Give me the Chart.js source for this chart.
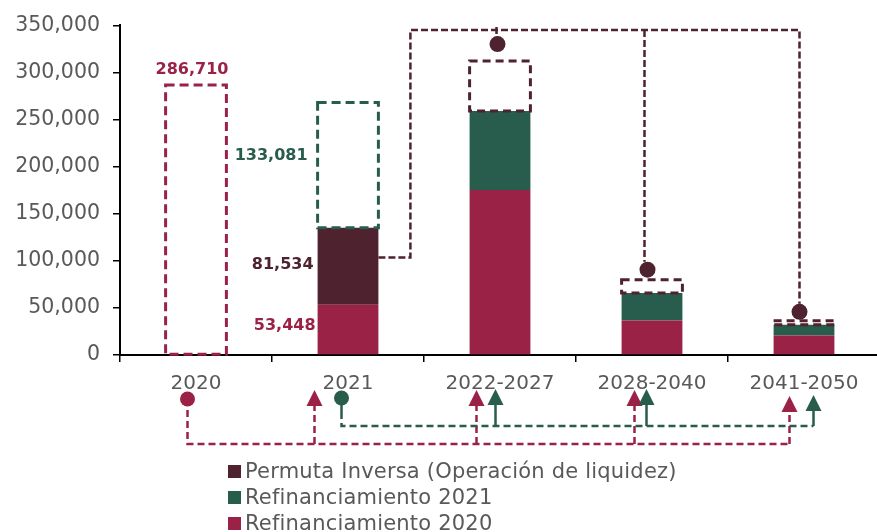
<!DOCTYPE html>
<html><head><meta charset="utf-8">
<script src="https://cdn.jsdelivr.net/npm/chart.js@4.4.0/dist/chart.umd.min.js"></script>
<style>
html,body{margin:0;padding:0;background:#fff;overflow:hidden;width:877px;height:532px;}
#wrap{position:relative;width:877px;height:532px;overflow:hidden;}
canvas{position:absolute;left:0;top:0;}
#legend{position:absolute;left:228px;top:458px;font-family:'DejaVu Sans';font-size:21px;letter-spacing:0.2px;color:#595959;white-space:nowrap;}
.item{display:flex;align-items:center;height:26px;}
.sw{width:13px;height:13px;margin-right:4px;flex:none;}
</style></head>
<body><div id="wrap"><canvas id="c" width="880" height="532"></canvas><div id="legend"></div></div>
<script>
const categories = ['2020', '2021', '2022-2027', '2028-2040', '2041-2050'];
// solid (executed) amounts
const refin2020 = [0, 53448, 175200, 36700, 20800];
const refin2021 = [0, 0, 83900, 29200, 11200];
const permuta = [0, 81534, 0, 0, 0];
// dashed (pending / original) amounts
const refin2020Pend = [286710, 0, 0, 0, 0];
const refin2021Pend = [0, 133081, 0, 0, 0];
const permutaPend = [0, 0, 52900, 14100, 4300];
const yTickValues = [0, 50000, 100000, 150000, 200000, 250000, 300000, 350000];

const RED = '#9B2247', GREEN = '#285C4D', MAROON = '#4E222E', GRAY = '#595959';
const FONT = 'DejaVu Sans';

const datasets = [
  {label: 'Refinanciamiento 2020', data: refin2020, backgroundColor: RED},
  {label: 'Refinanciamiento 2021', data: refin2021, backgroundColor: GREEN},
  {label: 'Permuta Inversa (Operación de liquidez)', data: permuta, backgroundColor: MAROON},
  {label: 'Refinanciamiento 2020 (original)', data: refin2020Pend, backgroundColor: 'rgba(0,0,0,0)', pend: true, lineColor: RED, dash: [9, 5]},
  {label: 'Refinanciamiento 2021 (original)', data: refin2021Pend, backgroundColor: 'rgba(0,0,0,0)', pend: true, lineColor: GREEN, dash: [9, 5]},
  {label: 'Permuta Inversa (pendiente)', data: permutaPend, backgroundColor: 'rgba(0,0,0,0)', pend: true, lineColor: MAROON, dash: [8, 5]}
];

const fmt = v => v.toLocaleString('en-US');

const annot = {
  id: 'annot',
  afterDatasetsDraw(chart) {
    const ctx = chart.ctx;
    const xs = chart.scales.x, ys = chart.scales.y;
    const area = chart.chartArea;
    const dsIdx = arr => chart.data.datasets.findIndex(d => d.data === arr);
    const els = arr => chart.getDatasetMeta(dsIdx(arr)).data;
    const cx = i => xs.getPixelForValue(i);
    ctx.save();
    // dashed boxes
    chart.data.datasets.forEach((ds, di) => {
      if (!ds.pend) return;
      chart.getDatasetMeta(di).data.forEach((el, i) => {
        if (!ds.data[i]) return;
        ctx.setLineDash(ds.dash);
        ctx.lineWidth = 3;
        ctx.strokeStyle = ds.lineColor;
        ctx.strokeRect(el.x - el.width / 2, el.y, el.width, el.base - el.y);
      });
    });
    ctx.setLineDash([]);
    // value labels
    ctx.font = 'bold 16px ' + FONT;
    ctx.textBaseline = 'middle';
    const e0 = els(refin2020Pend)[0];
    ctx.fillStyle = RED; ctx.textAlign = 'center';
    ctx.fillText(fmt(refin2020Pend[0]), e0.x - 4, e0.y - 15);
    ctx.textAlign = 'right';
    const g1 = els(refin2021Pend)[1];
    ctx.fillStyle = GREEN;
    ctx.fillText(fmt(refin2021Pend[1]), g1.x - g1.width / 2 - 10, (g1.y + g1.base) / 2 - 9);
    const p1 = els(permuta)[1];
    ctx.fillStyle = MAROON;
    ctx.fillText(fmt(permuta[1]), p1.x - p1.width / 2 - 4, (p1.y + p1.base) / 2 - 1);
    const r1 = els(refin2020)[1];
    ctx.fillStyle = RED;
    ctx.fillText(fmt(refin2020[1]), r1.x - r1.width / 2 - 2, (r1.y + r1.base) / 2 - 4);

    // top connector (permuta)
    const pp = els(permutaPend);
    const xr = p1.x + p1.width / 2;
    const yc = ys.getPixelForValue(103600);
    const yTop = ys.getPixelForValue(345000);
    const xv = xr + 32;
    const lineDx = [0, 0, -3.5, -7.5, -4.5];
    const dotDx = [0, 0, -2.5, -4.5, -4.5];
    const dotDy = [0, 0, 17, 10, 9];
    const R = 8;
    ctx.strokeStyle = MAROON; ctx.lineWidth = 2.5; ctx.setLineDash([7, 3]);
    const idx = permutaPend.map((v, i) => v > 0 ? i : -1).filter(i => i >= 0);
    const last = idx[idx.length - 1];
    ctx.beginPath();
    ctx.moveTo(xr, yc); ctx.lineTo(xv, yc); ctx.lineTo(xv, yTop);
    ctx.lineTo(cx(last) + lineDx[last], yTop);
    ctx.lineTo(cx(last) + lineDx[last], pp[last].y - dotDy[last] - R);
    ctx.stroke();
    idx.forEach((i, k) => {
      if (i === last) return;
      ctx.beginPath();
      if (k === 0) {
        ctx.setLineDash([]);
        ctx.moveTo(cx(i) + lineDx[i], yTop - 3); ctx.lineTo(cx(i) + lineDx[i], yTop + 4);
      } else {
        ctx.setLineDash([7, 3]);
        ctx.moveTo(cx(i) + lineDx[i], yTop); ctx.lineTo(cx(i) + lineDx[i], pp[i].y - dotDy[i] - R);
      }
      ctx.stroke();
    });
    ctx.setLineDash([]);
    ctx.fillStyle = MAROON;
    idx.forEach(i => {
      ctx.beginPath(); ctx.arc(cx(i) + dotDx[i], pp[i].y - dotDy[i], R, 0, Math.PI * 2); ctx.fill();
    });

    // bottom flow annotation
    const b = area.bottom;
    const arrow = (x0, tip, color) => {
      ctx.fillStyle = color;
      ctx.beginPath(); ctx.moveTo(x0, tip); ctx.lineTo(x0 + 8, tip + 16); ctx.lineTo(x0 - 8, tip + 16); ctx.closePath(); ctx.fill();
    };
    const tipDy = [35, 35, 35, 35, 41];
    // red (Refinanciamiento 2020)
    const redArrowDx = [0, -33.5, -23.5, -17.5, -14.5];
    const redIdx = refin2020.map((v, i) => v > 0 ? i : -1).filter(i => i >= 0);
    const redSrc = refin2020Pend.findIndex(v => v > 0);
    const rcx = cx(redSrc) - 8.5, rcy = b + 44, ry = b + 89;
    ctx.strokeStyle = RED; ctx.lineWidth = 2.5; ctx.setLineDash([7, 4]);
    ctx.beginPath();
    ctx.moveTo(rcx, rcy); ctx.lineTo(rcx, ry);
    ctx.lineTo(cx(redIdx[redIdx.length - 1]) + redArrowDx[redIdx[redIdx.length - 1]], ry);
    redIdx.forEach(i => { ctx.moveTo(cx(i) + redArrowDx[i], ry); ctx.lineTo(cx(i) + redArrowDx[i], b + tipDy[i] + 14); });
    ctx.stroke();
    ctx.setLineDash([]);
    redIdx.forEach(i => arrow(cx(i) + redArrowDx[i], b + tipDy[i], RED));
    ctx.fillStyle = RED; ctx.beginPath(); ctx.arc(rcx, rcy, 7.5, 0, Math.PI * 2); ctx.fill();
    // green (Refinanciamiento 2021)
    const grnArrowDx = [0, 0, -4.5, -5.5, 9.5];
    const grnIdx = refin2021.map((v, i) => v > 0 ? i : -1).filter(i => i >= 0);
    const grnSrc = refin2021Pend.findIndex(v => v > 0);
    const gcx = cx(grnSrc) - 6.5, gcy = b + 43, gy = b + 71;
    const gLast = grnIdx[grnIdx.length - 1];
    ctx.strokeStyle = GREEN; ctx.lineWidth = 2.5;
    ctx.beginPath(); ctx.moveTo(gcx, gcy); ctx.lineTo(gcx, gcy + 14); ctx.stroke();
    ctx.setLineDash([7, 4]);
    ctx.beginPath(); ctx.moveTo(gcx, gcy + 14); ctx.lineTo(gcx, gy); ctx.lineTo(cx(gLast) + grnArrowDx[gLast], gy); ctx.stroke();
    ctx.setLineDash([]);
    ctx.beginPath();
    grnIdx.forEach(i => { ctx.moveTo(cx(i) + grnArrowDx[i], gy); ctx.lineTo(cx(i) + grnArrowDx[i], b + tipDy[i] + 14); });
    ctx.stroke();
    grnIdx.forEach(i => arrow(cx(i) + grnArrowDx[i], b + tipDy[i] - 1, GREEN));
    ctx.fillStyle = GREEN; ctx.beginPath(); ctx.arc(gcx, gcy, 7.5, 0, Math.PI * 2); ctx.fill();
    ctx.restore();
  }
};

const chart = new Chart(document.getElementById('c'), {
  type: 'bar',
  data: {labels: categories, datasets: datasets},
  options: {
    responsive: false,
    animation: false,
    devicePixelRatio: 1,
    layout: {padding: {top: 24, left: 0, right: 0, bottom: 0}},
    datasets: {bar: {categoryPercentage: 1, barPercentage: 0.4, borderWidth: 0}},
    plugins: {legend: {display: false}, tooltip: {enabled: false}},
    scales: {
      x: {
        stacked: true,
        grid: {display: true, drawOnChartArea: false, drawTicks: true, tickLength: 7, color: '#000', lineWidth: 1.5, offset: true},
        border: {display: true, color: '#000', width: 2},
        ticks: {color: GRAY, font: {family: FONT, size: 20}, padding: 10, maxRotation: 0, autoSkip: false},
        afterFit: s => { s.height = 177; }
      },
      y: {
        stacked: true,
        min: 0, max: 350000,
        afterBuildTicks: s => { s.ticks = yTickValues.map(v => ({value: v})); },
        grid: {display: true, drawOnChartArea: false, drawTicks: true, tickLength: 7, color: '#000', lineWidth: 1.5},
        border: {display: true, color: '#000', width: 2},
        ticks: {color: GRAY, font: {family: FONT, size: 20.5}, padding: 13, callback: v => fmt(v)},
        afterFit: s => { s.width = 120; }
      }
    }
  },
  plugins: [annot]
});

// HTML legend built from the chart's own datasets
const leg = document.getElementById('legend');
chart.data.datasets.filter(d => !d.pend).slice().reverse().forEach(d => {
  const it = document.createElement('div'); it.className = 'item';
  const sw = document.createElement('span'); sw.className = 'sw'; sw.style.background = d.backgroundColor;
  const tx = document.createElement('span'); tx.textContent = d.label;
  it.appendChild(sw); it.appendChild(tx); leg.appendChild(it);
});
</script>
</body></html>
